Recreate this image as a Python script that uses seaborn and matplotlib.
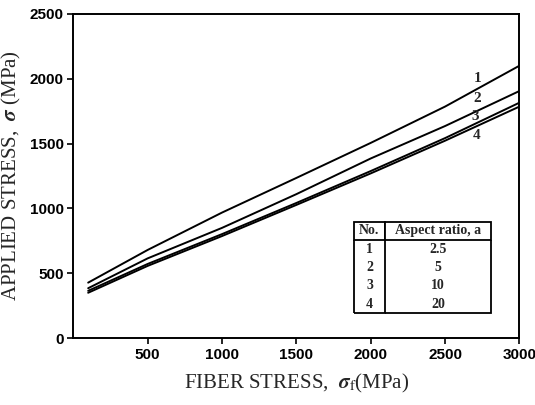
import numpy as np
import pandas as pd
import matplotlib
matplotlib.use("Agg")
import matplotlib.pyplot as plt
import seaborn as sns

# Data
fiber_stress = [100, 500, 1000, 1500, 2000, 2500, 3000]
curve1 = [428, 680, 968, 1235, 1505, 1785, 2100]
curve2 = [385, 615, 850, 1110, 1385, 1635, 1905]
curve3 = [365, 572, 802, 1042, 1288, 1542, 1815]
curve4 = [350, 557, 787, 1027, 1270, 1522, 1785]
curve_names = ["1", "2", "3", "4"]
aspect_ratios = ["2.5", "5", "10", "20"]
x_ticks = [500, 1000, 1500, 2000, 2500, 3000]
y_ticks = [0, 500, 1000, 1500, 2000, 2500]

rows = []
for name, ys in zip(curve_names, [curve1, curve2, curve3, curve4]):
    for x, y in zip(fiber_stress, ys):
        rows.append({"x": x, "y": y, "curve": name})
df = pd.DataFrame(rows)

sns.set_style("ticks")
plt.rcParams["mathtext.fontset"] = "stix"
fig = plt.figure(figsize=(5.35, 4.05), dpi=100)
ax = fig.add_axes([0.137, 0.165, 0.834, 0.801])

sns.lineplot(data=df, x="x", y="y", hue="curve",
             palette=["black"] * 4, linewidth=1.4, legend=False, ax=ax)

ax.set_xlim(0, 3000)
ax.set_ylim(0, 2500)
ax.set_xticks(x_ticks)
ax.set_yticks(y_ticks)
for lab in ax.get_xticklabels() + ax.get_yticklabels():
    lab.set_fontfamily("Liberation Sans")
    lab.set_fontweight("bold")
    lab.set_fontsize(11)
ax.tick_params(direction="out", length=4, width=1.2, colors="black", pad=3)
for s in ax.spines.values():
    s.set_linewidth(1.4)
    s.set_color("black")

ax.set_xlabel(r"FIBER STRESS,  $\boldsymbol{\sigma}_{\mathrm{f}}$(MPa)", fontfamily="Liberation Serif",
              fontsize=15, labelpad=7)
ax.set_ylabel(r"APPLIED STRESS,  $\boldsymbol{\sigma}$ (MPa)", fontfamily="Liberation Serif",
              fontsize=15, labelpad=5)

# curve labels
label_pos = [(2720, 2000), (2715, 1850), (2700, 1705), (2710, 1565)]
for name, (lx, ly) in zip(curve_names, label_pos):
    ax.text(lx, ly, name, fontfamily="Liberation Serif", fontweight="bold",
            fontsize=11, ha="center", va="center")

# table legend
tbl = ax.table(cellText=[[n, a] for n, a in zip(curve_names, aspect_ratios)],
               colLabels=["No.", "Aspect ratio, a"],
               bbox=[1890 / 3000, 192 / 2500, (2811 - 1890) / 3000, (897 - 192) / 2500],
               colWidths=[0.22, 0.78], cellLoc="center")
tbl.auto_set_font_size(False)
for (r, c), cell in tbl.get_celld().items():
    cell.set_text_props(fontfamily="Liberation Serif", fontweight="bold", fontsize=10)
    cell.set_linewidth(1.3)
    if r > 0:
        edges = "LR" if c == 0 else "R"
        if r == 4:
            edges += "B"
        cell.visible_edges = edges
    else:
        cell.visible_edges = "closed"

fig.savefig("out.png", dpi=100)
